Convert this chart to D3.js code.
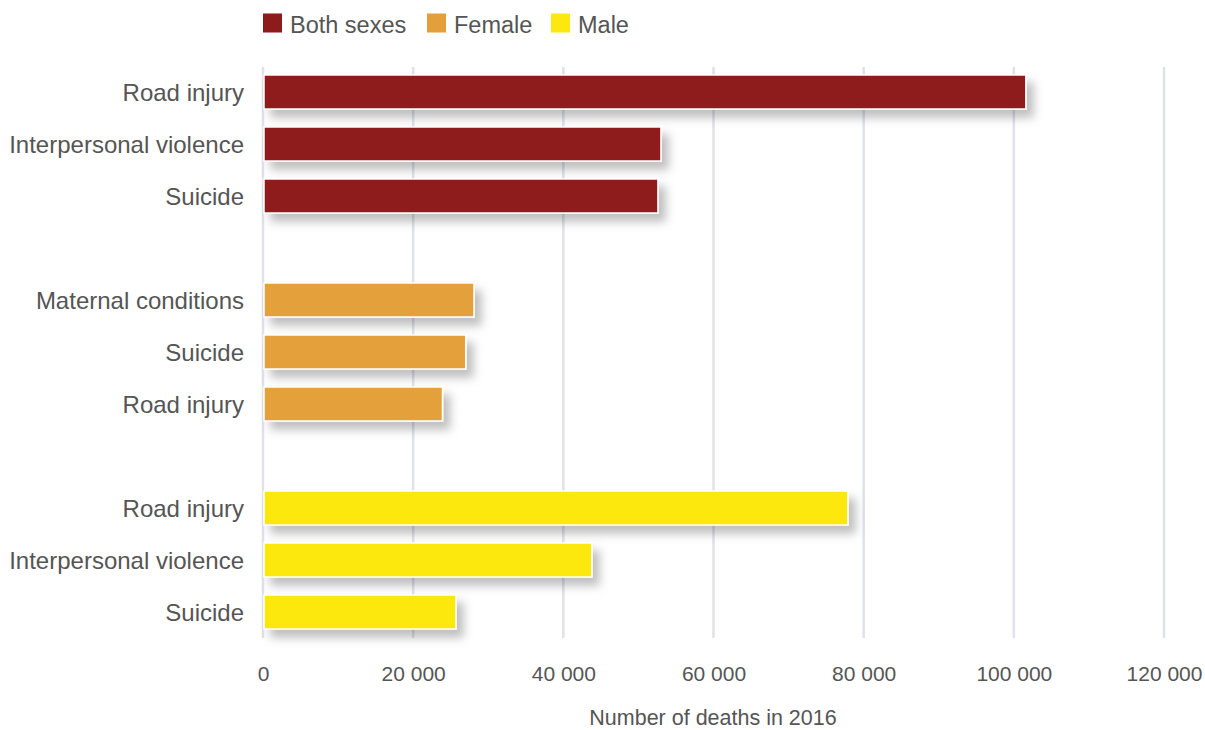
<!DOCTYPE html>
<html>
<head>
<meta charset="utf-8">
<script src="https://cdn.jsdelivr.net/npm/d3@7"></script>
<style>
  html, body { margin: 0; padding: 0; background: #fff; }
  svg { display: block; font-family: "Liberation Sans", Arial, Helvetica, sans-serif; }
</style>
</head>
<body>
<svg id="chart" width="1205" height="730"></svg>
<script>
// ---- data ----
const groups = ["Both sexes", "Female", "Male"];
const groupColors = ["#8e1b1b", "#e3a03a", "#fce80e"];
const bothCategories = ["Road injury", "Interpersonal violence", "Suicide"];
const bothValues = [101600, 53000, 52600];
const femaleCategories = ["Maternal conditions", "Suicide", "Road injury"];
const femaleValues = [28100, 27000, 23900];
const maleCategories = ["Road injury", "Interpersonal violence", "Suicide"];
const maleValues = [77900, 43800, 25700];
const xTicks = [0, 20000, 40000, 60000, 80000, 100000, 120000];
const xTitle = "Number of deaths in 2016";

// ---- build rows ----
const seriesCats = [bothCategories, femaleCategories, maleCategories];
const seriesVals = [bothValues, femaleValues, maleValues];
const rows = [];
const slots = [];
seriesCats.forEach((cats, g) => {
  cats.forEach((c, i) => {
    const id = g + "-" + i;
    rows.push({ id, cat: c, value: seriesVals[g][i], group: g });
    slots.push(id);
  });
  if (g < seriesCats.length - 1) slots.push("gap-" + g);
});

const svg = d3.select("#chart");
const defs = svg.append("defs");
const f = defs.append("filter").attr("id", "shadow")
  .attr("x", "-10%").attr("y", "-60%").attr("width", "130%").attr("height", "280%");
f.append("feDropShadow").attr("dx", 7).attr("dy", 8).attr("stdDeviation", 5)
  .attr("flood-color", "#000").attr("flood-opacity", 0.25);

const x = d3.scaleLinear().domain([0, 120000]).range([263, 1164]);
const y = d3.scaleBand().domain(slots).range([66, 638]).paddingInner(0.346).paddingOuter(0.173);

// gridlines
svg.append("g").selectAll("line").data(xTicks).join("line")
  .attr("x1", d => x(d)).attr("x2", d => x(d))
  .attr("y1", 67).attr("y2", 638)
  .attr("stroke", "#dfe2ea").attr("stroke-width", 2.5);

// bars
svg.append("g").selectAll("rect").data(rows).join("rect")
  .attr("x", x(0) + 1)
  .attr("y", d => y(d.id))
  .attr("width", d => x(d.value) - x(0) - 1)
  .attr("height", y.bandwidth())
  .attr("fill", d => groupColors[d.group])
  .attr("stroke", "#fff").attr("stroke-width", 1.5)
  .attr("filter", "url(#shadow)");

// category labels
svg.append("g").selectAll("text").data(rows).join("text")
  .attr("x", 244)
  .attr("y", d => y(d.id) + y.bandwidth() / 2 + 8.5)
  .attr("text-anchor", "end")
  .attr("font-size", 24)
  .attr("fill", "#555")
  .text(d => d.cat);

// x axis
const fmt = d => d3.format(",")(d).replace(/,/g, " ");
const xAxis = d3.axisBottom(x).tickValues(xTicks).tickFormat(fmt).tickSize(0).tickPadding(0);
const ax = svg.append("g").attr("transform", "translate(0,665)").call(xAxis);
ax.select(".domain").remove();
ax.selectAll("text").attr("font-size", 21).attr("fill", "#555")
  .attr("font-family", "'Liberation Sans', Arial, sans-serif").attr("dy", "0.75em");

svg.append("text").attr("x", 713).attr("y", 724.5).attr("text-anchor", "middle")
  .attr("font-size", 21.5).attr("fill", "#555").text(xTitle);

// legend
const legendX = [263, 427, 551];
const lg = svg.append("g").selectAll("g").data(groups).join("g")
  .attr("transform", (d, i) => `translate(${legendX[i]},13.5)`);
lg.append("rect").attr("width", 19).attr("height", 19).attr("fill", (d, i) => groupColors[i]);
lg.append("text").attr("x", 27).attr("y", 19).attr("font-size", 23.5).attr("fill", "#555").text(d => d);
</script>
</body>
</html>
